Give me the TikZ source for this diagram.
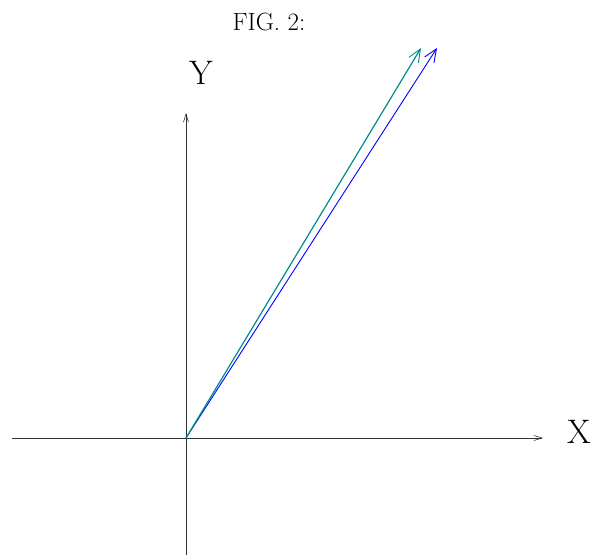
\documentclass[tikz,border=0pt]{standalone}
\usepackage{fontspec}
\usetikzlibrary{arrows.meta}
\begin{document}
\begin{tikzpicture}[x=1pt,y=-1pt,
  axis/.style={line width=0.6pt, draw=black!80, -{Straight Barb[length=8pt,width=5pt,line width=0.6pt]}},
  vec/.style={line width=0.9pt, -{Straight Barb[length=13pt,width=11pt,line width=0.9pt]}},
  lbl/.style={inner sep=0pt, font=\fontsize{34}{40}\selectfont}]
\useasboundingbox (0,0) rectangle (595,557);
\coordinate (O) at (186,438);
\coordinate (xs) at (12,438);
\coordinate (xe) at (543,438);
\coordinate (ys) at (186,555);
\coordinate (ye) at (186,113);
\coordinate (t1) at (421,48);
\coordinate (t2) at (437,48);
\node[inner sep=0pt, font=\fontsize{25}{30}\selectfont] (title) at (269,22) {FIG. 2:};
\node[lbl] (X) at (579,432) {X};
\node[lbl] (Y) at (201,73) {Y};
\draw[axis] (xs) -- (xe);
\draw[axis] (ys) -- (ye);
\draw[vec, draw=blue] (O) -- (t2);
\draw[vec, line width=1.2pt, draw=teal!90!cyan] (O) -- (t1);
\end{tikzpicture}
\end{document}
